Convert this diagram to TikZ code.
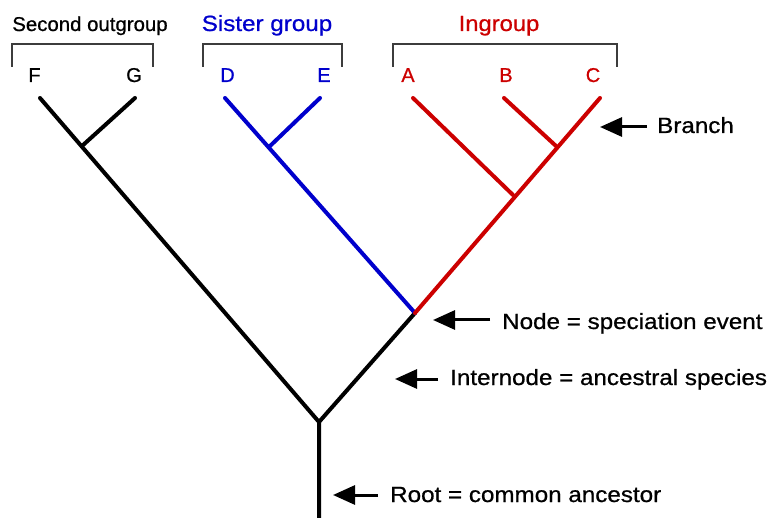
\documentclass[tikz,border=0pt]{standalone}
\usepackage{fontspec}
\setmainfont{Liberation Sans}
\newfontfamily\semib{Liberation Sans}[FakeBold=0.7]
\usetikzlibrary{arrows.meta}
\definecolor{tred}{RGB}{204,0,0}
\definecolor{tblue}{RGB}{0,0,204}
\definecolor{brk}{RGB}{60,60,60}
\newcommand{\hs}[2]{\scalebox{#1}[1]{#2}}
\tikzset{
  branchline/.style={line width=4pt, line cap=round, line join=round},
  bracketline/.style={draw=brk, line width=1.4pt},
  tiplabel/.style={anchor=base, inner sep=0pt, font=\semib\fontsize{20}{22}\selectfont},
  grouplabel/.style={anchor=base, inner sep=0pt, font=\semib\fontsize{22}{24}\selectfont},
  annot/.style={anchor=base west, inner sep=0pt, font=\semib\fontsize{22}{24}\selectfont},
  pointer/.style={line width=3pt, -{Triangle[length=22pt,width=19pt]}},
}
\begin{document}
\begin{tikzpicture}[x=1pt,y=-1pt]
\useasboundingbox (0,0) rectangle (776,518);
% coordinates of the tree
\coordinate (rootbot) at (319,518);
\coordinate (rootj) at (319,422);
\coordinate (nodeS) at (415,313);
\coordinate (tipF) at (40,98);
\coordinate (tipG) at (135,98);
\coordinate (jFG) at (82,146);
\coordinate (tipD) at (225,98);
\coordinate (tipE) at (320,98);
\coordinate (jDE) at (269,147);
\coordinate (tipA) at (413,98);
\coordinate (tipB) at (504,98);
\coordinate (tipC) at (600,98);
\coordinate (jABC) at (513,195);
\coordinate (jBC) at (556,146);
% black
\draw[branchline] (rootbot) -- (rootj) -- (tipF);
\draw[branchline] (jFG) -- (tipG);
\draw[branchline] (rootj) -- (nodeS);
% blue
\draw[branchline, tblue] (nodeS) -- (tipD);
\draw[branchline, tblue] (jDE) -- (tipE);
% red
\draw[branchline, tred] (nodeS) -- (tipC);
\draw[branchline, tred] (jABC) -- (tipA);
\draw[branchline, tred] (jBC) -- (tipB);
% brackets
\draw[bracketline] (12,67) -- (12,44) -- (153,44) -- (153,67);
\draw[bracketline] (203,67) -- (203,44) -- (342,44) -- (342,67);
\draw[bracketline] (393,67) -- (393,44) -- (617,44) -- (617,67);
% group labels
\node[grouplabel] (gOut) at (90,31) {\hs{1.02}{\fontsize{20}{22}\selectfont Second outgroup}};
\node[grouplabel, text=tblue] (gSis) at (267,31) {\hs{1.1}{Sister group}};
\node[grouplabel, text=tred] (gIn) at (499,31) {\hs{1.08}{Ingroup}};
% tip labels
\node[tiplabel] (lF) at (34.5,82) {F};
\node[tiplabel] (lG) at (134,82) {G};
\node[tiplabel, text=tblue] (lD) at (227.5,82) {D};
\node[tiplabel, text=tblue] (lE) at (324,82) {E};
\node[tiplabel, text=tred] (lA) at (408,82) {A};
\node[tiplabel, text=tred] (lB) at (506,82) {B};
\node[tiplabel, text=tred] (lC) at (593,82) {C};
% annotations
\node[annot] (tBranch) at (657,133) {\hs{1.1}{Branch}};
\node[annot] (tNode) at (502,329) {\hs{1.1}{Node = speciation event}};
\node[annot] (tInter) at (450,385) {\hs{1.1}{Internode = ancestral species}};
\node[annot] (tRoot) at (390,502) {\hs{1.1}{Root = common ancestor}};
\coordinate (aB1) at (647,127); \coordinate (aB2) at (600,127);
\coordinate (aN1) at (490,320); \coordinate (aN2) at (433,320);
\coordinate (aI1) at (438,379); \coordinate (aI2) at (395,379);
\coordinate (aR1) at (378,495); \coordinate (aR2) at (333,495);
\draw[pointer] (aB1) -- (aB2);
\draw[pointer] (aN1) -- (aN2);
\draw[pointer] (aI1) -- (aI2);
\draw[pointer] (aR1) -- (aR2);
\end{tikzpicture}
\end{document}
